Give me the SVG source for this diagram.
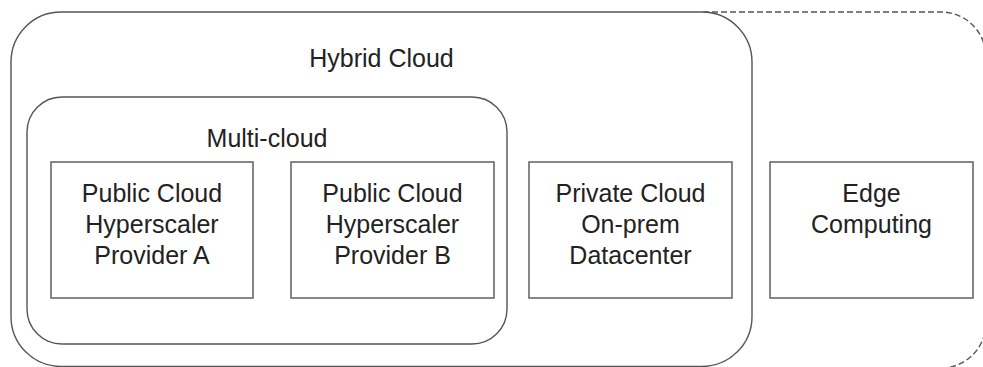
<svg xmlns="http://www.w3.org/2000/svg" width="983" height="367" viewBox="0 0 983 367">
<style>
.box{fill:#fff;stroke:#555;stroke-width:1.4;}
.dash{fill:none;stroke:#555;stroke-width:1.4;stroke-dasharray:6,3;}
.t{font-family:"Liberation Sans",Arial,sans-serif;font-size:25px;fill:#222;text-anchor:middle;}
</style>
<rect width="983" height="367" fill="#fff"/>
<g id="edge-zone">
<path class="dash" d="M703,12 H941 A45,45 0 0 1 986,57 V323 A45,45 0 0 1 941,368 H760"/>
</g>
<g id="hybrid-cloud">
<rect x="11" y="12" width="741" height="354.5" rx="50" class="box"/>
<text class="t" x="381.5" y="67">Hybrid Cloud</text>
</g>
<g id="multi-cloud">
<rect x="27" y="97" width="480" height="247" rx="35" class="box"/>
<text class="t" x="267" y="147">Multi-cloud</text>
</g>
<g id="provider-a">
<rect x="51" y="162" width="202" height="136" class="box"/>
<text class="t" x="152" y="202">Public Cloud</text>
<text class="t" x="152" y="233">Hyperscaler</text>
<text class="t" x="152" y="264">Provider A</text>
</g>
<g id="provider-b">
<rect x="291" y="162" width="203" height="136" class="box"/>
<text class="t" x="392.5" y="202">Public Cloud</text>
<text class="t" x="392.5" y="233">Hyperscaler</text>
<text class="t" x="392.5" y="264">Provider B</text>
</g>
<g id="private-cloud">
<rect x="529" y="162" width="203" height="136" class="box"/>
<text class="t" x="630.5" y="202">Private Cloud</text>
<text class="t" x="630.5" y="233">On-prem</text>
<text class="t" x="630.5" y="264">Datacenter</text>
</g>
<g id="edge-computing">
<rect x="770" y="162" width="203" height="136" class="box"/>
<text class="t" x="871.5" y="202">Edge</text>
<text class="t" x="871.5" y="233">Computing</text>
</g>
<g id="connectors"></g>
</svg>
